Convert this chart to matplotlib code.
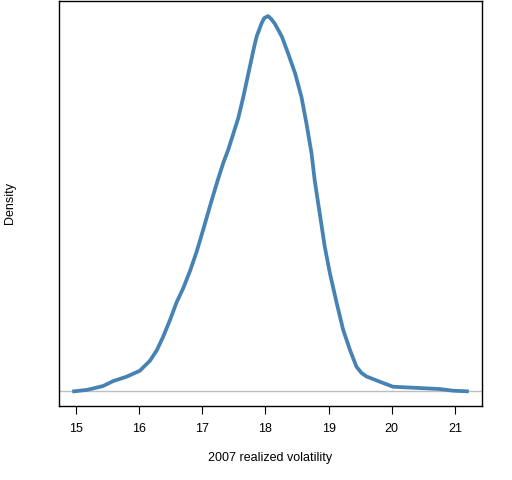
import matplotlib
matplotlib.use('Agg')
import matplotlib.pyplot as plt

# density curve
vol = [14.97, 15.17, 15.27, 15.43, 15.59, 15.80, 16.01, 16.17, 16.28, 16.38,
       16.49, 16.59, 16.70, 16.81, 16.91, 17.02, 17.12, 17.23, 17.33, 17.41,
       17.57, 17.65, 17.73, 17.81, 17.86, 17.94, 17.98, 18.04, 18.09, 18.15,
       18.26, 18.36, 18.47, 18.57, 18.65, 18.73, 18.78, 18.86, 18.94, 19.02,
       19.13, 19.23, 19.34, 19.44, 19.52, 19.60, 19.81, 20.02, 20.34, 20.76,
       20.97, 21.19]
density = [0.0, 0.002, 0.004, 0.0075, 0.0145, 0.0206, 0.029, 0.043, 0.058, 0.077,
           0.101, 0.125, 0.146, 0.171, 0.197, 0.230, 0.261, 0.294, 0.322, 0.341,
           0.386, 0.416, 0.449, 0.482, 0.501, 0.520, 0.527, 0.530, 0.526, 0.519,
           0.501, 0.477, 0.449, 0.416, 0.378, 0.336, 0.298, 0.251, 0.204, 0.167,
           0.124, 0.087, 0.058, 0.035, 0.026, 0.021, 0.0136, 0.0065, 0.0051, 0.0032,
           0.0009, 0.0]
xticks = [15, 16, 17, 18, 19, 20, 21]

plt.rcParams['font.family'] = ['Liberation Sans', 'DejaVu Sans']

fig = plt.figure(figsize=(5.12, 4.8), dpi=100)
ax = fig.add_axes([0.1158, 0.1548, 0.825, 0.843])

ax.axhline(0, color='#BEBEBE', linewidth=1)
ax.plot(vol, density, color='#4682B4', linewidth=2.7, solid_joinstyle='round')

ax.set_xlim(14.736, 21.424)
ax.set_ylim(-0.0203, 0.5512)
ax.set_xticks(xticks)
ax.set_yticks([])
ax.tick_params(axis='x', direction='out', length=5.5, width=0.8, pad=7,
               labelsize=9, colors='black')
for s in ax.spines.values():
    s.set_linewidth(1.0)

ax.set_xlabel('2007 realized volatility', fontsize=9, va='center')
ax.xaxis.set_label_coords(0.5, -0.1285)
ax.set_ylabel('Density', fontsize=9, va='center')
ax.yaxis.set_label_coords(-0.1167, 0.5)

fig.savefig('out.png', dpi=100)
